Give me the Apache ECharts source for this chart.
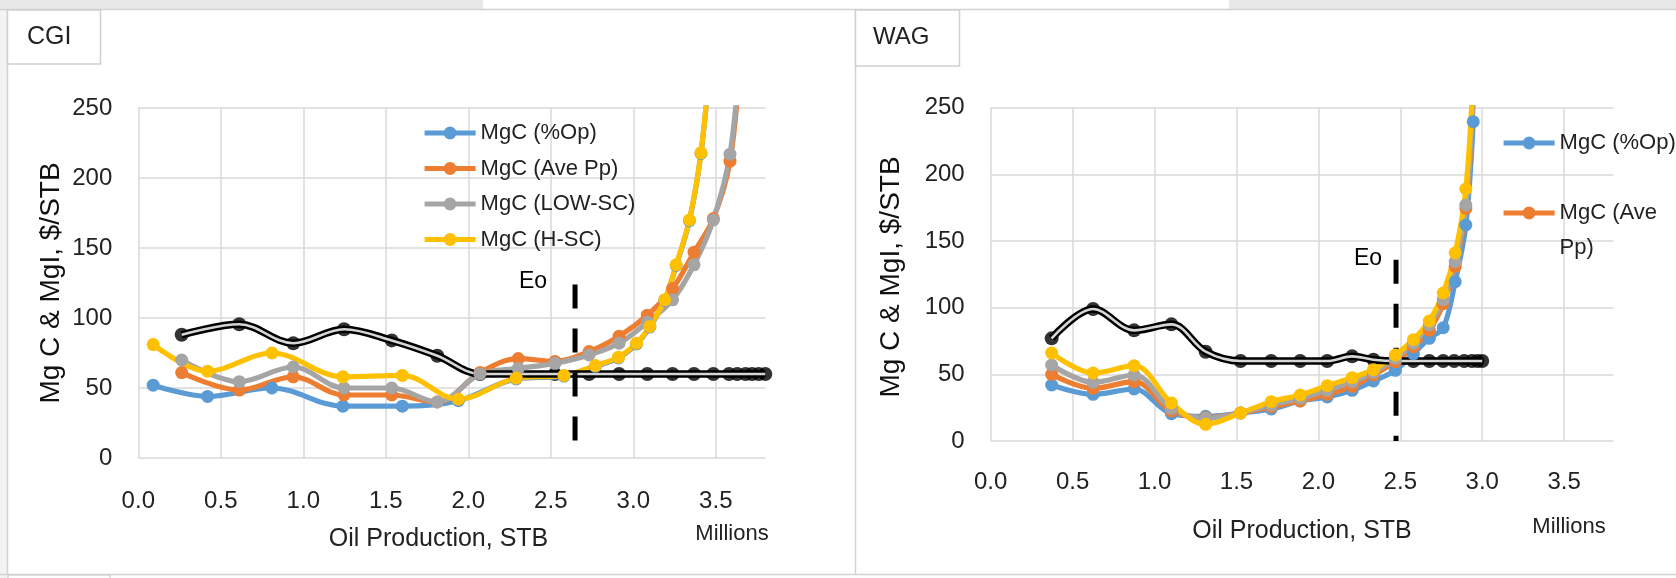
<!DOCTYPE html>
<html><head><meta charset="utf-8">
<script src="https://cdn.jsdelivr.net/npm/echarts@6/dist/echarts.min.js"></script>
<style>html,body{margin:0;padding:0;background:#fff}#c{width:1676px;height:578px}</style>
</head><body><div id="c"></div>
<script>
// ---------- axis settings ----------
const X_MIN = 0, X_MAX = 3.8, X_STEP = 0.5;
const Y_MIN = 0, Y_MAX = 250, Y_STEP = 50;
const seriesNames = ['MgC (%Op)', 'MgC (Ave Pp)', 'MgC (LOW-SC)', 'MgC (H-SC)'];
const seriesColors = ['#5B9BD5', '#ED7D31', '#A5A5A5', '#FFC000'];

// ---------- CGI (left) ----------
const cgiXa = [0.09, 0.42, 0.81, 1.24, 1.60, 1.94, 2.29, 2.58, 2.77, 2.91, 3.02, 3.10, 3.19, 3.26, 3.34, 3.41, 3.47];
const cgiOp = [52, 44, 50, 37, 37, 41, 56.5, 58.5, 65.5, 71.5, 81.5, 93.5, 112.5, 137.5, 169.5, 217.5, 289];
const cgiHsc = [81, 62, 75, 58, 59, 42, 57, 59, 66, 72, 82, 94, 113, 138, 170, 218, 290];
const cgiXb = [0.263, 0.612, 0.939, 1.247, 1.536, 1.812, 2.071, 2.303, 2.525, 2.732, 2.914, 3.085, 3.238, 3.368, 3.485, 3.586, 3.647];
const cgiPp = [61, 48.5, 58, 45, 45, 40, 61, 71, 69, 76, 87, 102, 121, 147, 171, 212, 285];
const cgiLow = [70, 54.5, 65, 50, 50, 40, 60, 64, 67.6, 73.6, 82, 97, 113, 138, 170, 217, 290];
const cgiMgIX = [0.263, 0.612, 0.939, 1.247, 1.536, 1.812, 2.071, 2.303, 2.525, 2.732, 2.914, 3.085, 3.238, 3.368, 3.485, 3.58, 3.63, 3.68, 3.72, 3.76, 3.80];
const cgiMgI = [88, 95.5, 82, 92, 84, 73, 60, 60, 60, 60, 60, 60, 60, 60, 60, 60, 60, 60, 60, 60, 60];
const cgiEoX = 2.647, cgiEoTop = 124;

// ---------- WAG (right) ----------
const wagX = [0.372, 0.625, 0.875, 1.103, 1.312, 1.525, 1.712, 1.889, 2.054, 2.206, 2.336, 2.470, 2.580, 2.677, 2.762, 2.835, 2.900, 2.945];
const wagOp = [42, 35, 39, 20.5, 18.5, 21, 24, 30, 33, 38, 45, 53, 65.5, 77, 85, 119.5, 162, 239.5];
const wagPp = [50, 39.5, 44.5, 22.5, 17.5, 21, 25.7, 30, 35, 41, 49.5, 59.5, 70.7, 83, 103, 131, 174.5, 255];
const wagLow = [57, 44, 49.5, 24.5, 17, 21, 27, 32, 38, 44.5, 51.5, 62, 73.3, 87, 106, 134.5, 177, 262];
const wagHsc = [66, 51, 56.5, 28.5, 12.5, 21, 29.5, 34.5, 41.5, 47.5, 53.5, 64.5, 76, 90, 111, 141, 189, 275];
const wagMgIX = [0.372, 0.625, 0.875, 1.103, 1.312, 1.525, 1.712, 1.889, 2.054, 2.206, 2.336, 2.470, 2.580, 2.677, 2.762, 2.829, 2.890, 2.937, 2.971, 3.0];
const wagMgI = [77, 99, 83, 87.5, 67, 60, 60, 60, 60, 63.5, 61, 60, 60, 60, 60, 60, 60, 60, 60, 60];
const wagEoX = 2.474, wagEoTop = 136;

const FONT = "'Liberation Sans', Arial, sans-serif";
const TXT = '#222';
const GRIDC = '#d9d9d9';
const LW = 5.2, SYM = 13;

const zip = (xs, ys) => xs.map((x, i) => [x, ys[i]]);

function colored(idx, gi, xs, ys) {
  const c = seriesColors[idx];
  return {
    type: 'line', name: seriesNames[idx], xAxisIndex: gi, yAxisIndex: gi,
    data: zip(xs, ys), smooth: 0.35, symbol: 'circle', symbolSize: SYM, showAllSymbol: true,
    lineStyle: { color: c, width: LW }, itemStyle: { color: c },
    emphasis: { disabled: true }, clip: true
  };
}
function mgi(gi, xs, ys) {
  const d = zip(xs, ys);
  return [
    { type: 'line', name: 'MgI', xAxisIndex: gi, yAxisIndex: gi, data: d, smooth: 0.35, symbol: 'none',
      lineStyle: { color: '#000', width: 7.5 }, emphasis: { disabled: true }, clip: true },
    { type: 'line', name: 'MgI inner', xAxisIndex: gi, yAxisIndex: gi, data: d, smooth: 0.35, symbol: 'none',
      lineStyle: { color: '#d6d6d6', width: 2.6 }, silent: true, emphasis: { disabled: true }, clip: true },
    { type: 'scatter', name: 'MgI', xAxisIndex: gi, yAxisIndex: gi, data: d, symbolSize: 14,
      itemStyle: { color: '#000' }, emphasis: { disabled: true } }
  ];
}
function eo(gi, x, top) {
  return { type: 'line', name: 'Eo', xAxisIndex: gi, yAxisIndex: gi, data: [[x, top], [x, 0]], symbol: 'none',
    lineStyle: { color: '#000', width: 5, type: [24, 20], cap: 'butt' }, silent: true, emphasis: { disabled: true } };
}
function xAxis(gi, margin) {
  return { type: 'value', gridIndex: gi, min: X_MIN, max: X_MAX, interval: X_STEP,
    axisLine: { show: false }, axisTick: { show: false },
    splitLine: { show: true, showMaxLine: false, lineStyle: { color: GRIDC, width: 1.5 } },
    axisLabel: { margin: margin, fontSize: 24, color: TXT, fontFamily: FONT, showMaxLabel: false,
      formatter: v => v.toFixed(1) } };
}
function yAxis(gi) {
  return { type: 'value', gridIndex: gi, min: Y_MIN, max: Y_MAX, interval: Y_STEP,
    axisLine: { show: false }, axisTick: { show: false },
    splitLine: { show: true, lineStyle: { color: GRIDC, width: 1.5 } },
    axisLabel: { margin: 26, fontSize: 24, color: TXT, fontFamily: FONT } };
}
const legendBase = { orient: 'vertical', itemWidth: 51, itemHeight: 16, itemGap: 13.5, padding: 0,
  selectedMode: false, lineStyle: { width: LW }, textStyle: { fontSize: 22, color: TXT, fontFamily: FONT } };

const chart = echarts.init(document.getElementById('c'), null, { renderer: 'canvas' });
chart.setOption({
  animation: false,
  backgroundColor: '#fff',
  grid: [
    { left: 138.3, top: 108, width: 627, height: 350, outerBoundsMode: 'none' },
    { left: 990.7, top: 107.7, width: 622.6, height: 333.3, outerBoundsMode: 'none' }
  ],
  xAxis: [xAxis(0, 31), xAxis(1, 29)],
  yAxis: [yAxis(0), yAxis(1)],
  legend: [
    Object.assign({}, legendBase, { data: seriesNames, left: 422, top: 122 }),
    Object.assign({}, legendBase, { data: ['MgC (%Op)'], left: 1501, top: 132 }),
    Object.assign({}, legendBase, { data: ['MgC (Ave Pp)'], left: 1501, top: 160.5,
      formatter: () => ' \nMgC (Ave\nPp)',
      textStyle: { fontSize: 22, color: TXT, fontFamily: FONT, lineHeight: 35 } })
  ],
  series: [
    colored(0, 0, cgiXa, cgiOp), colored(1, 0, cgiXb, cgiPp), colored(2, 0, cgiXb, cgiLow), colored(3, 0, cgiXa, cgiHsc),
    ...mgi(0, cgiMgIX, cgiMgI), eo(0, cgiEoX, cgiEoTop),
    colored(0, 1, wagX, wagOp), colored(1, 1, wagX, wagPp), colored(2, 1, wagX, wagLow), colored(3, 1, wagX, wagHsc),
    ...mgi(1, wagMgIX, wagMgI), eo(1, wagEoX, wagEoTop)
  ]
});

const p0 = chart.convertToPixel({ gridIndex: 0 }, [cgiEoX, cgiEoTop]);
const p1 = chart.convertToPixel({ gridIndex: 1 }, [wagEoX, wagEoTop]);
const txt = (text, x, y, size, extra) => Object.assign({ type: 'text', x: x, y: y, silent: true,
  style: Object.assign({ text: text, fontSize: size, fontFamily: FONT, fill: TXT, align: 'center', verticalAlign: 'middle' }, extra && extra.style || {}) },
  extra ? { rotation: extra.rotation || 0 } : {});
const line = (x1, y1, x2, y2, c) => ({ type: 'line', silent: true, shape: { x1, y1, x2, y2 }, style: { stroke: c || '#d4d4d4', lineWidth: 1.5 } });
const rect = (x, y, w, h, fill, stroke) => ({ type: 'rect', silent: true, shape: { x, y, width: w, height: h },
  style: { fill: fill || 'none', stroke: stroke || 'none', lineWidth: 1.5 } });

chart.setOption({
  graphic: [
    rect(0, 0, 483, 9, '#e7e8e7'), rect(1229, 0, 447, 9, '#e7e8e7'),
    rect(0, 9, 7, 569, '#f3f3f3'),
    line(0, 9.5, 1676, 9.5, '#d2d2d2'),
    line(7.5, 9, 7.5, 574, '#d2d2d2'),
    line(855.5, 9, 855.5, 575, '#d2d2d2'),
    line(0, 574.5, 1676, 574.5, '#d2d2d2'),
    rect(8, 575, 102, 6, '#fff', '#d2d2d2'),
    rect(7.5, 10, 93, 54, '#fff', '#d0d0d0'),
    rect(855.5, 10, 104, 56, '#fff', '#d0d0d0'),
    txt('CGI', 27, 37, 25, { style: { align: 'left' } }),
    txt('WAG', 873, 37.5, 24, { style: { align: 'left' } }),
    txt('Mg C & MgI, $/STB', 51, 283, 28, { rotation: Math.PI / 2, style: { fill: '#111' } }),
    txt('Mg C & MgI, $/STB', 891, 277, 28, { rotation: Math.PI / 2, style: { fill: '#111' } }),
    txt('Oil Production, STB', 438.5, 539, 25),
    txt('Oil Production, STB', 1302, 531, 25),
    txt('Millions', 732, 534, 22),
    txt('Millions', 1569, 527, 22),
    txt('Eo', p0[0] - 42, p0[1] - 3, 23, { style: { fill: '#000' } }),
    txt('Eo', p1[0] - 28, p1[1] - 1, 23, { style: { fill: '#000' } })
  ]
});
</script></body></html>
